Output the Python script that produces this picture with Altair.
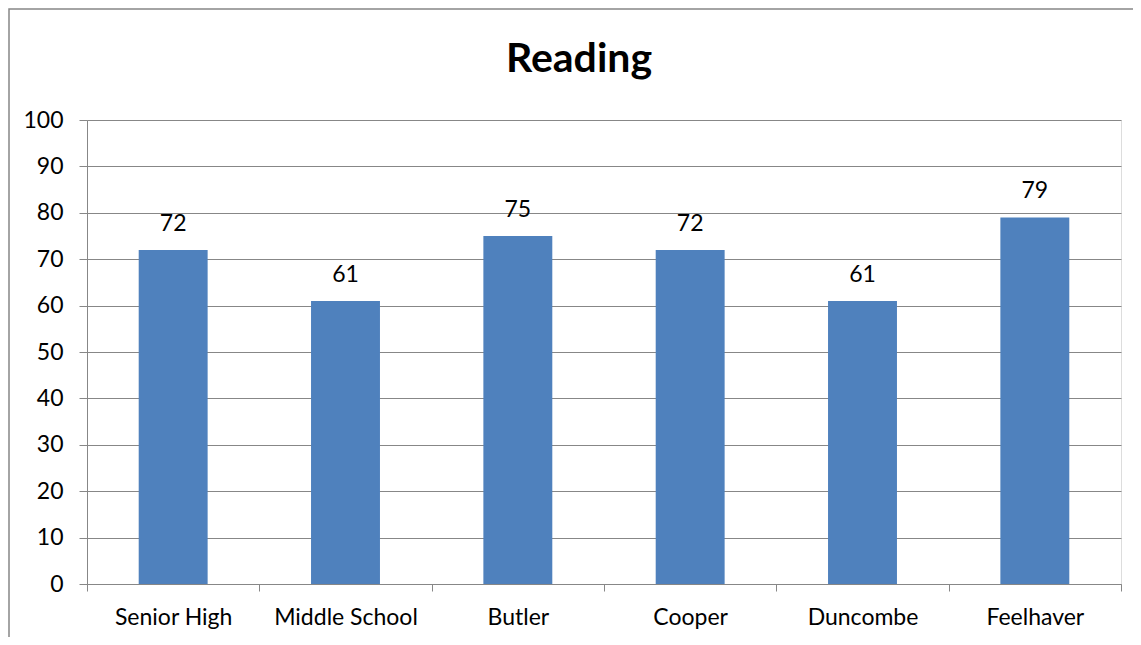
import altair as alt
import pandas as pd

schools = ["Senior High", "Middle School", "Butler", "Cooper", "Duncombe", "Feelhaver"]
scores = [72, 61, 75, 72, 61, 79]
title_text = ["Reading"]

df = pd.DataFrame({"school": schools, "score": scores})

FONT = "Lato"
GRAY = "#878787"
FS = 23

x_enc = alt.X(
    "school:N",
    sort=schools,
    title=None,
    scale=alt.Scale(paddingInner=0, paddingOuter=0),
    axis=alt.Axis(
        labelAngle=0,
        tickBand="extent",
        tickSize=7,
        labelPadding=15,
        labelFontSize=FS,
        labelFont=FONT,
        labelColor="black",
        domainColor=GRAY,
        tickColor=GRAY,
        grid=False,
    ),
)
y_enc = alt.Y(
    "score:Q",
    title=None,
    scale=alt.Scale(domain=[0, 100], nice=False),
    axis=alt.Axis(
        values=list(range(0, 101, 10)),
        tickSize=8,
        labelPadding=16,
        labelFontSize=FS,
        labelFont=FONT,
        labelColor="black",
        domainColor=GRAY,
        tickColor=GRAY,
        gridColor=GRAY,
        grid=True,
    ),
)

bars = alt.Chart(df).mark_bar(
    color="#4F81BD", width=alt.RelativeBandSize(0.4)
).encode(x=x_enc, y=y_enc)

labels = alt.Chart(df).mark_text(
    font=FONT, fontSize=FS, color="black", baseline="alphabetic", dy=-19
).encode(x=alt.X("school:N", sort=schools), y="score:Q", text="score:Q")

title = alt.Chart(pd.DataFrame({"t": title_text})).mark_text(
    font=FONT, fontSize=41, fontWeight="bold", color="black",
    baseline="alphabetic", align="center"
).encode(x=alt.value(492), y=alt.value(-48), text="t:N")

border = alt.Chart(pd.DataFrame({"b": [0]})).mark_rect(
    fill=None, stroke=GRAY, strokeWidth=1.5
).encode(
    x=alt.value(-78), x2=alt.value(1200), y=alt.value(-111), y2=alt.value(700)
)

chart = alt.layer(bars, labels, title, border).properties(
    width=1034,
    height=464,
    autosize=alt.AutoSizeParams(type="none"),
    padding={"left": 79, "top": 112, "right": 12, "bottom": 53},
).configure_view(stroke=None).configure(background="white")

chart.save("out.html", embed_options={"renderer": "svg", "actions": False})
